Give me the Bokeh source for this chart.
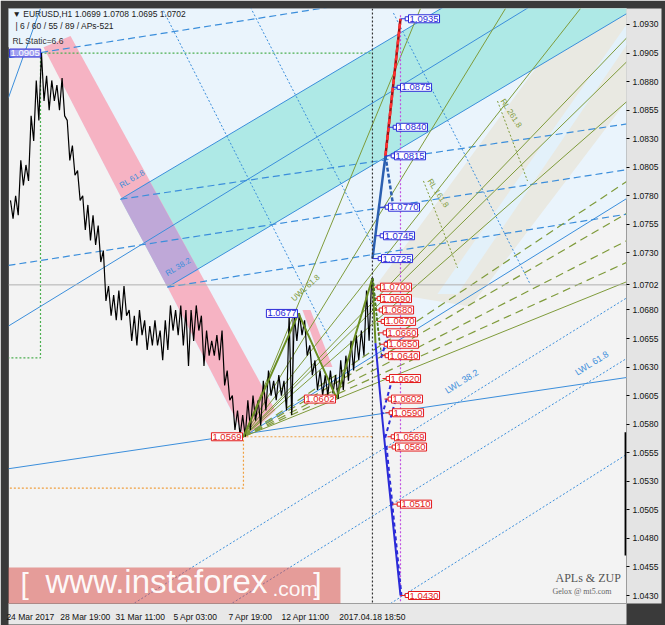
from bokeh.plotting import figure
from bokeh.models import Range1d, FixedTicker, PrintfTickFormatter, Label, BoxAnnotation, Span
from bokeh.core.properties import value
from bokeh.embed import file_html
from bokeh.resources import INLINE

# ---- dados: barras H1 de EURUSD (máxima/mínima a cada 6 barras) ----
bar_step = 6
bar_high = [1.0776, 1.0780, 1.0811, 1.0807, 1.0850, 1.0881, 1.0905, 1.0885, 1.0881, 1.0877,
            1.0883, 1.0846, 1.0824, 1.0802, 1.0780, 1.0772, 1.0763, 1.0754, 1.0732, 1.0701,
            1.0693, 1.0697, 1.0701, 1.0680, 1.0675, 1.0680, 1.0671, 1.0666, 1.0671, 1.0662,
            1.0671, 1.0684, 1.0680, 1.0684, 1.0680, 1.0680, 1.0684, 1.0675, 1.0662, 1.0653,
            1.0658, 1.0662, 1.0627, 1.0605, 1.0592, 1.0588, 1.0601, 1.0605, 1.0601, 1.0618,
            1.0627, 1.0618, 1.0623, 1.0618, 1.0675, 1.0675, 1.0677, 1.0671, 1.0649, 1.0636,
            1.0627, 1.0623, 1.0627, 1.0623, 1.0636, 1.0640, 1.0653, 1.0658, 1.0662, 1.0697,
            1.0708]
bar_low = [1.0760, 1.0763, 1.0789, 1.0793, 1.0828, 1.0846, 1.0863, 1.0855, 1.0863, 1.0855,
           1.0850, 1.0811, 1.0798, 1.0776, 1.0750, 1.0741, 1.0737, 1.0722, 1.0688, 1.0675,
           1.0671, 1.0671, 1.0675, 1.0653, 1.0649, 1.0658, 1.0645, 1.0649, 1.0649, 1.0636,
           1.0645, 1.0662, 1.0658, 1.0649, 1.0631, 1.0653, 1.0662, 1.0631, 1.0640, 1.0640,
           1.0636, 1.0614, 1.0601, 1.0575, 1.0570, 1.0569, 1.0575, 1.0583, 1.0579, 1.0592,
           1.0605, 1.0601, 1.0605, 1.0592, 1.0588, 1.0653, 1.0658, 1.0640, 1.0623, 1.0610,
           1.0605, 1.0605, 1.0607, 1.0602, 1.0610, 1.0618, 1.0627, 1.0636, 1.0640, 1.0653,
           1.0688]

# eixos
last_bar = 420.9
last_price = 1.0702
time_ticks = [23, 87, 151, 215, 279, 343, last_bar]
time_labels = ["24 Mar 2017", "28 Mar 19:00", "31 Mar 11:00", "5 Apr 03:00", "7 Apr 19:00",
               "12 Apr 11:00", "2017.04.18 18:50"]
price_ticks = [1.0430, 1.0455, 1.0480, 1.0505, 1.0530, 1.0555, 1.0580, 1.0605, 1.0630, 1.0655, 1.0680,
               last_price, 1.0730, 1.0755, 1.0780, 1.0805, 1.0830, 1.0855, 1.0880, 1.0905, 1.0930]

# áreas preenchidas (canais)
lightblue_x = [-23.3, 802.3, 802.3, 270.9, 38.4, -23.3]
lightblue_y = [1.0960, 1.0960, 1.0817, 1.0569, 1.0910, 1.0910]
beige_x = [420.9, 686.0, 802.3, 802.3, 534.9]
beige_y = [1.0697, 1.0969, 1.0969, 1.0948, 1.0683]
stripe_x = [496.5, 717.4, 717.4, 519.8]
stripe_y = [1.0694, 1.0931, 1.0913, 1.0694]
teal_x = [127.9, 802.3, 802.3, 182.6]
teal_y = [1.0777, 1.1079, 1.0978, 1.0700]
pink_x = [38.4, 69.8, 308.1, 273.3]
pink_y = [1.0910, 1.0920, 1.0592, 1.0568]
pink2_x = [339.5, 348.8, 374.4, 363.9]
pink2_y = [1.0680, 1.0680, 1.0630, 1.0630]
purple_x = [127.9, 161.6, 218.6, 182.6]
purple_y = [1.0777, 1.0793, 1.0715, 1.0700]

# linhas azuis
blue_x0 = [-2.3, 270.9, -2.3, 127.9, 182.6, -2.3]
blue_y0 = [1.0541, 1.0569, 1.0666, 1.0777, 1.0700, 1.0866]
blue_x1 = [717.4, 717.4, 639.5, 802.3, 802.3, 34.9]
blue_y1 = [1.0621, 1.0778, 1.0962, 1.1079, 1.0978, 1.0944]
bdash_x0 = [-2.3, 127.9, -2.3, 182.6]
bdash_y0 = [1.0901, 1.0777, 1.0719, 1.0700]
bdash_x1 = [715.1, 717.4, 717.4, 717.4]
bdash_y1 = [1.0986, 1.0843, 1.0803, 1.0764]
bdot_x0 = [104.7, 218.6, 441.9, 177.9, 279.1, 445.3]
bdot_y0 = [1.0405, 1.0405, 1.0423, 1.0942, 1.0945, 1.0940]
bdot_x1 = [717.4, 717.4, 717.4, 372.1, 420.9, 604.7]
bdot_y1 = [1.0691, 1.0638, 1.0554, 1.0653, 1.0737, 1.0702]

# leque verde a partir da mínima 1.0569
low_bar, low_price = 270.9, 1.0569
fan_x1 = [476.7, 575.6, 662.8, 717.4, 717.4, 717.4, 717.4]
fan_y1 = [1.0944, 1.0944, 1.0944, 1.0919, 1.0898, 1.0863, 1.0705]
fan_dash_y1 = [1.0793, 1.0765, 1.0741, 1.0722]
perp_x0 = [480.2, 566.3]
perp_y0 = [1.0793, 1.0863]
perp_x1 = [519.8, 601.2]
perp_y1 = [1.0717, 1.0793]

# ZUP
zup_x = [270.9, 334.9, 379.1, 420.9, 424.4]
zup_y = [1.0569, 1.0677, 1.0603, 1.0708, 1.0651]
up_levels = [1.0935, 1.0875, 1.0840, 1.0815, 1.0770, 1.0745, 1.0725]
up_label_x = [462.8, 453.5, 448.8, 446.5, 439.5, 433.7, 431.4]
up_anchor_x = [453.5, 444.2, 439.5, 436.0, 429.1, 424.4, 420.9]
down_levels = [1.0700, 1.0690, 1.0680, 1.0670, 1.0660, 1.0650, 1.0640, 1.0620, 1.0602, 1.0590,
               1.0569, 1.0560, 1.0510, 1.0430]
down_label_x = [430.2, 430.2, 432.6, 434.9, 437.2, 438.4, 439.5, 440.7, 443.0, 444.2,
                446.5, 447.7, 453.5, 462.8]
down_anchor_x = [423.3, 424.4, 425.6, 426.7, 427.9, 429.1, 431.4, 432.6, 434.9, 436.0,
                 438.4, 439.5, 444.2, 453.5]
proj_up_x = [420.9, 436.0]
proj_up_y = [1.0725, 1.0815]
proj_red_x = [436.0, 453.5]
proj_red_y = [1.0815, 1.0935]
proj_up_dash_x = [436.0, 445.3]
proj_up_dash_y = [1.0815, 1.0770]
proj_dn_x = [424.4, 432.6, 437.2, 453.5]
proj_dn_y = [1.0651, 1.0583, 1.0548, 1.0430]
proj_dn_dash_x0 = [439.5, 444.2, 447.7, 437.2]
proj_dn_dash_y0 = [1.0659, 1.0620, 1.0601, 1.0561]
proj_dn_dash_x1 = [430.2, 432.6, 434.9, 454.6]
proj_dn_dash_y1 = [1.0636, 1.0589, 1.0566, 1.0430]

OLIVE = "#7f9b3b"
BLUE = "#3b8edb"
RED = "#e31b1b"
ZBLUE = "#2b2bd8"
FONT = "Liberation Sans"

p = figure(frame_width=618, frame_height=595,
           x_range=Range1d(-2.3, 716.3), y_range=Range1d(1.0423, 1.0944),
           y_axis_location="right", output_backend="svg", toolbar_location=None,
           min_border_left=8, min_border_top=8, min_border_right=39, min_border_bottom=22,
           background_fill_color="#f3f3f3", border_fill_color="#3a3a3a",
           outline_line_color="#555555")
p.xgrid.visible = False
p.ygrid.visible = False

# preenchimentos
p.patch(lightblue_x, lightblue_y, fill_color="#eaf4fc", line_color=None)
p.patch(beige_x, beige_y, fill_color="#e9e9e2", line_color=None)
p.patch(stripe_x, stripe_y, fill_color="#e3f1fa", line_color=None)
p.patch(teal_x, teal_y, fill_color="#aee9e6", line_color=None)
p.patch(pink_x, pink_y, fill_color="#f6b3c3", line_color=None)
p.patch(pink2_x, pink2_y, fill_color="#f6b3c3", line_color=None)
p.patch(purple_x, purple_y, fill_color="#bfa8d8", line_color=None)

# retângulos pontilhados
p.line([-2.3, last_bar], [1.0905, 1.0905], line_color="#4caf50", line_dash="2 2", line_width=1.2)
p.line([34.9, 34.9, -2.3], [1.0905, 1.0638, 1.0638], line_color="#4caf50", line_dash="2 2", line_width=1.2)
p.line([last_bar, low_bar, low_bar, -2.3], [low_price, low_price, 1.0524, 1.0524],
       line_color="#f0a040", line_dash="2 2", line_width=1.2)

# linhas azuis
p.segment(blue_x0, blue_y0, blue_x1, blue_y1, line_color=BLUE, line_width=1)
p.segment(bdash_x0, bdash_y0, bdash_x1, bdash_y1, line_color=BLUE, line_width=1.2, line_dash="7 4")
p.segment(bdot_x0, bdot_y0, bdot_x1, bdot_y1, line_color=BLUE, line_width=1, line_dash="2 2")

# leque verde
p.segment([low_bar] * len(fan_x1), [low_price] * len(fan_x1), fan_x1, fan_y1, line_color=OLIVE, line_width=1)
p.segment([low_bar] * len(fan_dash_y1), [low_price] * len(fan_dash_y1), [717.4] * len(fan_dash_y1), fan_dash_y1,
          line_color=OLIVE, line_width=1.2, line_dash="8 5")
p.segment(perp_x0, perp_y0, perp_x1, perp_y1, line_color=OLIVE, line_width=1, line_dash="2 2")

# preço atual e cursores
p.segment([-2.3], [last_price], [716.3], [last_price], line_color="#b0b0b0", line_width=1)
p.segment([453.5], [1.0938], [453.5], [1.0423], line_color="#c050e0", line_width=1.2, line_dash="2 2")
p.add_layout(Span(location=last_bar, dimension="height", line_color="#333333", line_dash="2 2", line_width=1.2))
p.segment([327.9], [1.0677], [327.9], [1.0592], line_color="#888888", line_width=1)

# preço (ziguezague máxima/mínima)
zig_x, zig_y = [], []
for k, (hi, lo) in enumerate(zip(bar_high, bar_low)):
    zig_x += [k * bar_step, k * bar_step + 3]
    zig_y += [hi, lo]
p.line(zig_x, zig_y, line_color="black", line_width=1.2)

# ZUP
p.line(zup_x, zup_y, line_color="#6b8e23", line_width=2)
p.segment([last_bar] * 7, [1.0708] * 7, down_anchor_x[:7], down_levels[:7],
          line_color="#4d7a1e", line_width=1.2, line_dash="3 2")
p.line(proj_up_x, proj_up_y, line_color="#2b5fb0", line_width=2.5)
p.line(proj_up_dash_x, proj_up_dash_y, line_color="#2b5fb0", line_width=2.5, line_dash="4 2")
p.line(proj_red_x, proj_red_y, line_color="#a01010", line_width=2.5)
p.line(proj_red_x, proj_red_y, line_color="#ff3030", line_width=2.5, line_dash="5 3")
p.line(proj_dn_x, proj_dn_y, line_color=ZBLUE, line_width=2)
p.segment(proj_dn_dash_x0, proj_dn_dash_y0, proj_dn_dash_x1, proj_dn_dash_y1,
          line_color=ZBLUE, line_width=2, line_dash="4 3")

# conectores dos níveis
p.segment(up_anchor_x, up_levels, up_label_x, up_levels, line_color=ZBLUE, line_width=1)
p.segment(down_anchor_x, down_levels, down_label_x, down_levels, line_color=RED, line_width=1)
p.scatter([x - 1.5 for x in up_label_x], up_levels, marker="square", size=4, fill_color="white", line_color=ZBLUE)
p.scatter([x - 1.5 for x in down_label_x], down_levels, marker="square", size=4, fill_color="white", line_color=RED)

# barra preta no eixo de preços
p.segment([715.8], [1.0573], [715.8], [1.0465], line_color="black", line_width=3)


# textos rotacionados
def rot_text(x, y, txt, ang, color, size="8px"):
    p.text([x], [y], text=[txt], angle=ang, text_color=color, text_font=value(FONT),
           text_font_size=size, text_baseline="bottom")


rot_text(130.2, 1.0785, "RL 61.8", 0.54, BLUE)
rot_text(183.7, 1.0708, "RL 38.2", 0.54, BLUE)
rot_text(509.3, 1.0605, "LWL 38.2", 0.56, BLUE, "9px")
rot_text(660.5, 1.0621, "LWL 61.8", 0.56, BLUE, "9px")
rot_text(482.6, 1.0792, "RL 161.8", -1.0, OLIVE)
rot_text(567.5, 1.0862, "RL 261.8", -1.0, OLIVE)
rot_text(331.4, 1.0686, "UWL 61.8", 0.74, OLIVE)


def price_box(x, y, txt, color, fill, align="left", tcolor=None):
    p.add_layout(Label(x=x, y=y, text=txt, text_align=align, text_baseline="middle",
                       text_font=FONT, text_font_size="9.5px", text_color=tcolor or color,
                       background_fill_color=fill, border_line_color=color, padding=1))


for lv, lx in zip(up_levels, up_label_x):
    price_box(lx, lv, f"{lv:.4f}", ZBLUE, "white")
for lv, lx in zip(down_levels, down_label_x):
    price_box(lx, lv, f"{lv:.4f}", RED, "white")
price_box(333.7, 1.0677, "1.0677", ZBLUE, "white", "right")
price_box(377.9, 1.0602, "1.0602", RED, "white", "right")
price_box(269.8, 1.0569, "1.0569", RED, "white", "right")
price_box(-1.0, 1.0905, "1.0905", ZBLUE, "#a0a0f0", "left", "white")

# cabeçalho
p.add_layout(Label(x=2.3, y=1.0939, text="\u25bc EURUSD,H1  1.0699 1.0708 1.0695 1.0702",
                   text_font=FONT, text_font_size="8.5px", text_color="#222222", text_baseline="middle"))
p.add_layout(Label(x=5.8, y=1.0929, text="| 6 / 60 / 55 / 89 / APs-521",
                   text_font=FONT, text_font_size="8.5px", text_color="#222222", text_baseline="middle"))
p.add_layout(Label(x=2.3, y=1.09155, text="RL Static=6.6",
                   text_font=FONT, text_font_size="8.5px", text_color="#333333", text_baseline="middle"))

# créditos
p.add_layout(Label(x=633.7, y=1.04449, text="APLs & ZUP", text_font="Liberation Serif",
                   text_font_size="12px", text_color="#555555", text_baseline="middle"))
p.add_layout(Label(x=630.2, y=1.04335, text="Gelox @ mt5.com", text_font="Liberation Serif",
                   text_font_size="8px", text_color="#666666", text_baseline="middle"))

# marca d'água
p.add_layout(BoxAnnotation(left=-30, right=383.7, bottom=1.0405, top=1.04545,
                           fill_color="#d9534f", fill_alpha=0.55, line_color=None))
for x, txt, size in [(11.6, "[", "30px"), (40.7, "www.instaforex", "33px"), (304.7, ".com", "21px"), (352.0, "]", "30px")]:
    p.add_layout(Label(x=x, y=1.04262, text=txt, text_font=FONT, text_font_size=size,
                       text_color="white", text_alpha=0.95, text_baseline="bottom"))

# eixo de preços (direita)
p.yaxis.ticker = FixedTicker(ticks=price_ticks)
p.yaxis.formatter = PrintfTickFormatter(format="%.4f")
p.yaxis.major_label_text_font = FONT
p.yaxis.major_label_text_font_size = "8.5px"
p.yaxis.major_label_text_color = "#111111"
p.yaxis.minor_tick_line_color = None
p.yaxis.major_tick_in = 0
p.yaxis.major_tick_out = 3
p.yaxis.major_label_standoff = 3
p.yaxis.axis_line_color = None
p.yaxis.background_fill_color = "#e4e4e4"

# eixo do tempo
p.xaxis.ticker = FixedTicker(ticks=time_ticks)
p.xaxis.major_label_overrides = dict(zip(time_ticks, time_labels))
p.xaxis.major_label_text_font = FONT
p.xaxis.major_label_text_font_size = "8.5px"
p.xaxis.major_label_text_color = "#111111"
p.xaxis.minor_tick_line_color = None
p.xaxis.major_tick_line_color = None
p.xaxis.major_label_standoff = 2
p.xaxis.axis_line_color = None
p.xaxis.background_fill_color = "#e8e8e8"

open("out.html", "w").write(file_html(p, INLINE))
